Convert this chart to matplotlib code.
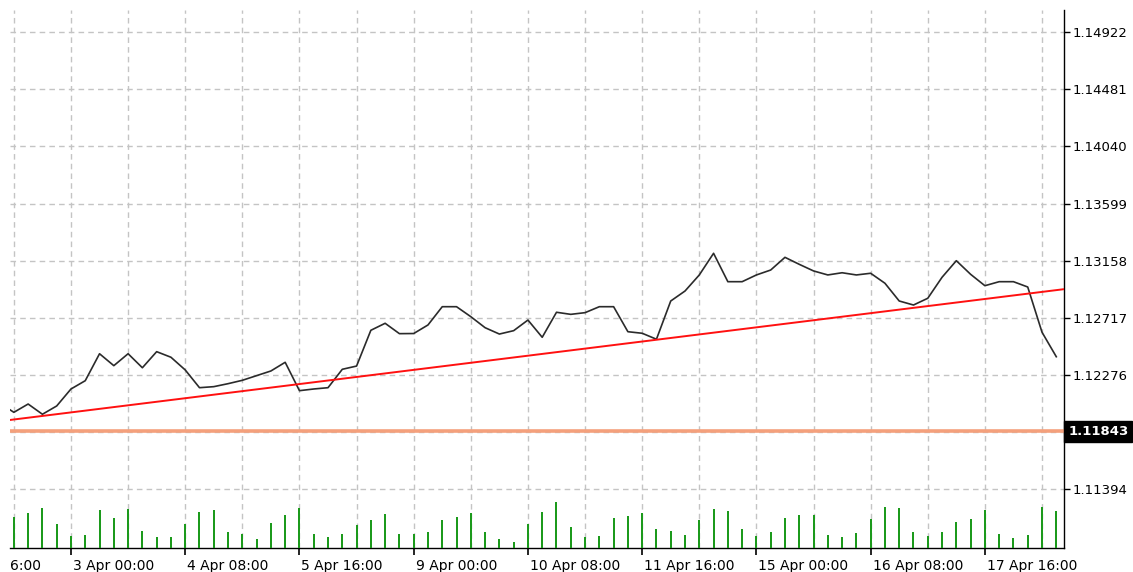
import numpy as np
import matplotlib
matplotlib.use("Agg")
import matplotlib.pyplot as plt
import matplotlib.transforms as mtransforms

# ─── Data (H4 bars, index 0 = first visible bar) ─────────────────────────
BAR_INDEX = list(range(-1, 74))
CLOSE = [
    1.12060, 1.11988, 1.12052, 1.11973, 1.12037, 1.12168, 1.12232, 1.12440,
    1.12348, 1.12440, 1.12332, 1.12456, 1.12413, 1.12315, 1.12178, 1.12186,
    1.12209, 1.12235, 1.12271, 1.12307, 1.12374, 1.12155, 1.12168, 1.12178,
    1.12320, 1.12345, 1.12621, 1.12675, 1.12595, 1.12596, 1.12662, 1.12803,
    1.12803, 1.12726, 1.12641, 1.12592, 1.12618, 1.12700, 1.12567, 1.12760,
    1.12744, 1.12757, 1.12803, 1.12803, 1.12610, 1.12598, 1.12552, 1.12847,
    1.12924, 1.13048, 1.13215, 1.12996, 1.12996, 1.13048, 1.13086, 1.13184,
    1.13130, 1.13079, 1.13048, 1.13065, 1.13048, 1.13061, 1.12984, 1.12847,
    1.12816, 1.12868, 1.13030, 1.13158, 1.13053, 1.12965, 1.12996, 1.12996,
    1.12955, 1.12606, 1.12417,
]
# tick volume, relative heights (bars 0..73)
VOLUME = [
    31, 35, 40, 24, 12, 13, 38, 30, 39, 17, 11, 11, 24, 36, 38, 16,
    14, 9, 25, 33, 40, 14, 11, 14, 23, 28, 34, 14, 14, 16, 28, 31,
    35, 16, 9, 6, 24, 36, 46, 21, 11, 12, 30, 32, 35, 19, 17, 13,
    28, 39, 37, 19, 12, 16, 30, 33, 33, 13, 11, 15, 29, 41, 40, 16,
    12, 16, 26, 29, 38, 14, 10, 13, 41, 37,
]
TREND_ANCHORS = [(2, 1.11960), (45, 1.12548)]
HLINE_PRICE = 1.11843
PRICE_TICKS = [1.11394, 1.11835, 1.12276, 1.12717, 1.13158, 1.13599,
               1.14040, 1.14481, 1.14922]
TIME_TICKS = [4, 12, 20, 28, 36, 44, 52, 60, 68]
TIME_LABELS = ["3 Apr 00:00", "4 Apr 08:00", "5 Apr 16:00", "9 Apr 00:00",
               "10 Apr 08:00", "11 Apr 16:00", "15 Apr 00:00",
               "16 Apr 08:00", "17 Apr 16:00"]

XLIM = (-0.27, 73.54)
YLIM = (1.10941, 1.150925)


def main():
    plt.rcParams["font.family"] = ["DejaVu Sans"]
    fig = plt.figure(figsize=(11.33, 5.72), dpi=100)
    W, H = 1133, 572
    ax = fig.add_axes([10 / W, 24 / H, 1054 / W, 538 / H])
    ax.set_xlim(*XLIM)
    ax.set_ylim(*YLIM)

    # volumes on hidden twin axis (1 unit ~ 1 px)
    axv = ax.twinx()
    axv.set_ylim(0, 538)
    axv.bar(BAR_INDEX[1:], VOLUME, width=0.14, color="#1c9a1c", zorder=2)
    axv.set_axis_off()

    # grid / ticks
    ax.set_xticks(TIME_TICKS)
    ax.set_xticklabels(TIME_LABELS, ha="left", fontsize=10)
    ax.set_xticks(list(range(0, 74, 8)), minor=True)
    ax.tick_params(axis="x", which="major", direction="out", length=5,
                   width=1.2, pad=3)
    ax.tick_params(axis="x", which="minor", length=0)
    for lbl in ax.get_xticklabels():
        lbl.set_transform(lbl.get_transform() +
                          mtransforms.ScaledTranslation(2 / 100, 0, fig.dpi_scale_trans))
    ax.yaxis.tick_right()
    ax.set_yticks(PRICE_TICKS)
    ax.set_yticklabels(["" if abs(p - 1.11835) < 1e-6 else f"{p:.5f}"
                        for p in PRICE_TICKS], fontsize=9.5)
    ax.tick_params(axis="y", direction="out", length=4, width=1, pad=2)
    ax.grid(True, which="both", color="#c4c4c4", linestyle=(0, (4, 3)),
            linewidth=1)

    for side in ("left", "top"):
        ax.spines[side].set_visible(False)
    ax.spines["right"].set_linewidth(1)
    ax.spines["bottom"].set_linewidth(1)

    # price line
    ax.plot(BAR_INDEX, CLOSE, color="#2b2b2b", linewidth=1.2, zorder=4)

    # trend line through the two anchors, extended over the view
    (k1, p1), (k2, p2) = TREND_ANCHORS
    slope = (p2 - p1) / (k2 - k1)
    xs = np.array(XLIM)
    ax.plot(xs, p1 + slope * (xs - k1), color="#ff1010", linewidth=1.4,
            zorder=5)

    # horizontal level with its price box
    ax.axhline(HLINE_PRICE, color="#f4a07c", linewidth=2.6, zorder=3)
    trans = mtransforms.blended_transform_factory(ax.transAxes, ax.transData)
    ax.text(1.004, HLINE_PRICE, f"{HLINE_PRICE:.5f}", transform=trans,
            ha="left", va="center", fontsize=9.5, fontweight="bold",
            color="white", zorder=6, clip_on=False,
            bbox=dict(boxstyle="square,pad=0.3", facecolor="black",
                      edgecolor="black"))

    # truncated first time label at the left edge (same offset as tick labels)
    off = mtransforms.ScaledTranslation(0, -8 / 72, fig.dpi_scale_trans)
    ax.text(0, 0, "6:00", transform=ax.transAxes + off, ha="left", va="top",
            fontsize=10, clip_on=False)

    fig.savefig("out.png", dpi=100, facecolor="white")


if __name__ == "__main__":
    main()
